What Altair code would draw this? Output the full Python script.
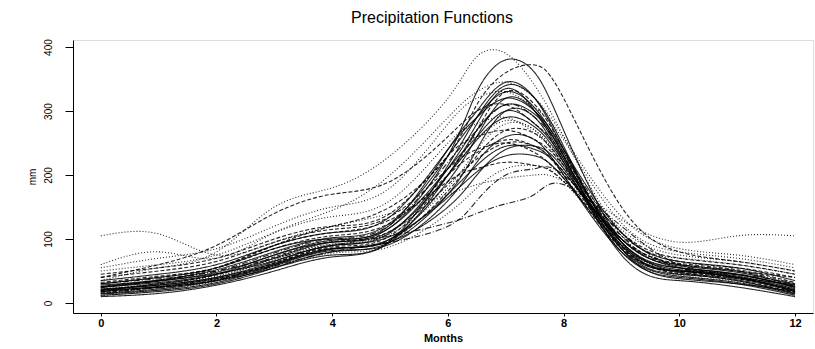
import altair as alt
import pandas as pd

months = [0, 1, 2, 3, 4, 5, 6, 6.5, 7, 7.5, 8, 9, 10, 11, 12]

# precipitation (mm) per station at the month positions above
s01 = [105, 108, 75, 95, 120, 140, 170, 185, 195, 200, 190, 130, 95, 105, 105]
s02 = [35, 55, 80, 150, 180, 230, 320, 385, 390, 340, 260, 110, 70, 60, 45]
s03 = [30, 40, 55, 90, 120, 150, 230, 310, 360, 372, 320, 150, 80, 65, 50]
s04 = [20, 30, 45, 75, 95, 118, 230, 330, 380, 360, 270, 95, 50, 40, 20]
s05 = [25, 35, 50, 70, 90, 105, 125, 140, 155, 170, 185, 120, 60, 45, 30]
s06 = [40, 60, 90, 140, 170, 190, 260, 300, 310, 280, 230, 100, 60, 50, 40]
s07 = [12, 18, 30, 55, 80, 95, 170, 240, 300, 290, 220, 80, 40, 30, 12]
s08 = [15, 22, 35, 60, 85, 100, 190, 260, 320, 300, 230, 85, 45, 35, 15]
s09 = [18, 25, 38, 62, 88, 105, 200, 270, 330, 310, 240, 90, 48, 38, 18]
s10 = [20, 28, 40, 65, 90, 110, 210, 280, 335, 300, 225, 85, 50, 40, 20]
s11 = [22, 30, 42, 68, 92, 108, 180, 240, 280, 270, 210, 90, 52, 42, 22]
s12 = [25, 32, 45, 70, 95, 112, 200, 255, 290, 275, 220, 95, 55, 45, 25]
s13 = [14, 20, 32, 58, 82, 92, 160, 220, 260, 255, 200, 80, 42, 32, 14]
s14 = [16, 24, 36, 63, 86, 98, 175, 230, 270, 265, 215, 88, 46, 36, 16]
s15 = [28, 35, 48, 75, 98, 118, 210, 260, 300, 280, 225, 100, 58, 48, 28]
s16 = [30, 38, 50, 78, 100, 122, 220, 270, 310, 290, 235, 105, 60, 50, 30]
s17 = [18, 26, 38, 60, 84, 96, 150, 200, 240, 245, 210, 95, 48, 38, 18]
s18 = [20, 30, 44, 72, 96, 112, 185, 225, 250, 245, 200, 85, 50, 40, 20]
s19 = [24, 34, 46, 66, 90, 104, 165, 205, 230, 230, 195, 90, 52, 44, 24]
s20 = [12, 20, 34, 56, 78, 88, 140, 180, 210, 215, 190, 92, 44, 34, 12]
s21 = [32, 42, 55, 85, 105, 125, 200, 235, 255, 245, 205, 100, 62, 52, 32]
s22 = [35, 45, 60, 90, 110, 135, 240, 290, 320, 300, 240, 110, 65, 55, 35]
s23 = [26, 36, 52, 80, 102, 125, 230, 290, 330, 305, 235, 95, 55, 45, 26]
s24 = [15, 25, 40, 70, 92, 110, 200, 255, 285, 270, 215, 80, 45, 35, 15]
s25 = [22, 28, 40, 62, 85, 100, 170, 215, 245, 240, 205, 100, 55, 42, 22]
s26 = [40, 50, 65, 95, 115, 135, 210, 240, 250, 235, 195, 105, 65, 55, 40]
s27 = [18, 24, 36, 58, 80, 95, 120, 160, 200, 210, 200, 110, 55, 40, 18]
s28 = [25, 35, 55, 90, 110, 130, 190, 210, 220, 215, 190, 100, 60, 50, 25]
s29 = [45, 55, 70, 100, 120, 140, 230, 260, 270, 255, 215, 110, 70, 60, 45]
s30 = [50, 60, 75, 110, 135, 160, 250, 280, 290, 265, 220, 115, 75, 65, 50]
s31 = [30, 40, 55, 85, 100, 122, 240, 300, 345, 320, 240, 90, 50, 40, 28]
s32 = [20, 25, 35, 55, 75, 97, 215, 290, 340, 320, 245, 85, 38, 30, 18]
s33 = [10, 15, 28, 50, 72, 95, 200, 270, 310, 295, 230, 75, 35, 25, 10]
s34 = [55, 70, 85, 120, 150, 180, 280, 320, 330, 305, 255, 125, 80, 70, 55]
s35 = [60, 80, 70, 110, 145, 200, 290, 330, 345, 320, 260, 135, 85, 75, 60]

series = [s01, s02, s03, s04, s05, s06, s07, s08, s09, s10, s11, s12, s13, s14,
          s15, s16, s17, s18, s19, s20, s21, s22, s23, s24, s25, s26, s27, s28,
          s29, s30, s31, s32, s33, s34, s35]
names = ["S%02d" % (i + 1) for i in range(len(series))]

rows = []
for name, vals in zip(names, series):
    for m, v in zip(months, vals):
        rows.append({"station": name, "month": m, "mm": v})
df = pd.DataFrame(rows)

SOLID = [1, 0]
DASH = [4, 2]
DOT = [1, 2]
DASHDOT = [6, 2, 1, 2]
pattern = [DOT, DOT, DASH, SOLID, DASHDOT, DASH, SOLID, SOLID, DASH, SOLID,
           DOT, SOLID, SOLID, DASH, SOLID, DASHDOT, SOLID, DASH, SOLID, DOT,
           DASH, SOLID, SOLID, DOT, SOLID, DASH, DASHDOT, DASH, DASH, DOT,
           SOLID, SOLID, SOLID, DOT, DOT]

font = "Liberation Sans"

chart = alt.Chart(df).mark_line(
    interpolate="natural", strokeWidth=1.1, color="#000000", opacity=0.85
).encode(
    x=alt.X("month:Q",
            scale=alt.Scale(domain=[-0.48, 12.31], nice=False, zero=False),
            axis=alt.Axis(values=[0, 2, 4, 6, 8, 10, 12], title="Months",
                          grid=False, tickSize=3, labelFontSize=11,
                          labelFontWeight="bold", titleFontSize=11,
                          titleFontWeight="bold", labelPadding=1,
                          titlePadding=4, domainColor="black",
                          tickColor="black", labelColor="black",
                          titleColor="black", labelFont=font, titleFont=font)),
    y=alt.Y("mm:Q",
            scale=alt.Scale(domain=[-15.6, 411], nice=False, zero=False),
            axis=alt.Axis(values=[0, 100, 200, 300, 400], title="mm",
                          grid=False, tickSize=8, labelAngle=270,
                          labelFontSize=10, titleFontSize=10,
                          titleFontWeight="normal", labelPadding=12,
                          titlePadding=6, domainColor="black",
                          tickColor="black", labelColor="black",
                          titleColor="black", labelFont=font, titleFont=font)),
    detail="station:N",
    strokeDash=alt.StrokeDash("station:N",
                              scale=alt.Scale(domain=names, range=pattern),
                              legend=None),
).properties(
    width=740,
    height=273,
    title=alt.TitleParams("Precipitation Functions", fontSize=16,
                          fontWeight="normal", font=font, color="black",
                          anchor="middle", offset=13, dx=-11),
    autosize=alt.AutoSizeParams(type="none"),
    padding={"left": 73, "top": 40, "right": 2, "bottom": 36},
).configure_view(stroke="black", strokeWidth=1).configure(background="white")

chart.save("out.html", embed_options={"renderer": "svg", "actions": False})
